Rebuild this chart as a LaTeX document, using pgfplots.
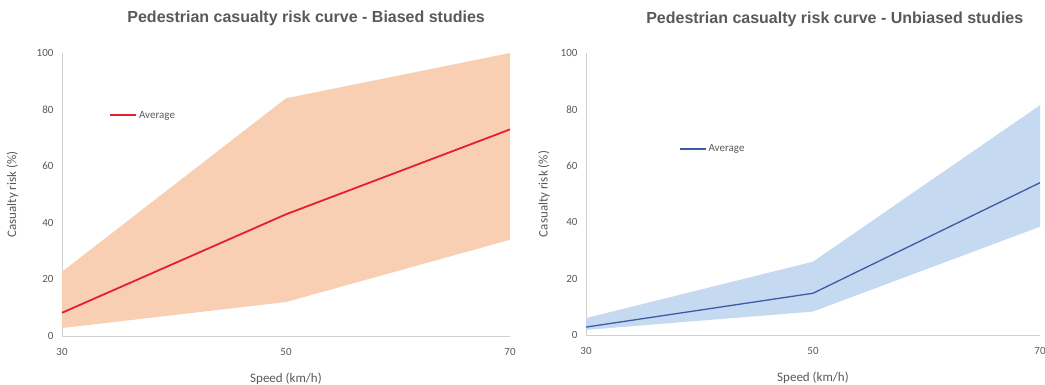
\documentclass[border=0pt]{standalone}
\usepackage{pgfplots}
\pgfplotsset{compat=1.18}
\usepackage{fontspec}
\setmainfont{Carlito}
\newfontfamily\titlefont{Liberation Sans}
\definecolor{txt}{HTML}{595959}
\definecolor{axl}{HTML}{D0D0D0}
\definecolor{orfill}{HTML}{F8CFB2}
\definecolor{redl}{HTML}{E4202C}
\definecolor{blfill}{HTML}{C5DAF0}
\definecolor{bll}{HTML}{3D5AA8}
\pgfplotsset{
  mystyle/.style={
    scale only axis,
    anchor=south west,
    xmin=30, xmax=70, ymin=0, ymax=100,
    xtick={30,50,70}, ytick={0,20,...,100},
    axis lines*=left,
    axis line style={draw=axl, line width=0.8pt},
    major tick length=0pt,
    tick label style={font=\fontsize{11}{12}\selectfont, text=txt},
    /pgf/number format/assume math mode=true,
    yticklabel style={xshift=-5pt},
    xticklabel style={yshift=-9pt},
    label style={font=\fontsize{13}{15}\selectfont, text=txt},
    xlabel={Speed (km/h)},
    ylabel={Casualty risk (\%)},
    xlabel style={at={(axis description cs:0.5,-0.118)}, anchor=north},
    title style={font=\titlefont\bfseries\fontsize{16}{18}\selectfont, text=txt, anchor=base},
    legend style={draw=none, fill=none, font=\fontsize{11}{12}\selectfont, text=txt,
      legend cell align=left, inner sep=0pt},
    legend image code/.code={\draw[#1] (0pt,0pt) -- (26pt,0pt);},
  }
}
\begin{document}
\begin{tikzpicture}
\useasboundingbox (0pt,0pt) rectangle (1045pt,385pt);
\begin{axis}[mystyle,
  at={(62pt,49pt)}, width=448pt, height=283pt,
  title={Pedestrian casualty risk curve - Biased studies},
  title style={at={(axis description cs:0.545,1.088)}},
  ylabel style={at={(axis description cs:-0.09,0.5)}, anchor=south},
  legend style={at={(axis description cs:0.105,0.78)}, anchor=west},
]
\addplot[fill=orfill, draw=none, forget plot] coordinates {(30,22.7) (50,84) (70,100) (70,34) (50,12) (30,2.8)} -- cycle;
\addplot[redl, line width=1.8pt] coordinates {(30,8.2) (50,43) (70,73)};
\addlegendentry{Average}
\end{axis}
\begin{axis}[mystyle,
  at={(586pt,50pt)}, width=454pt, height=282pt,
  title={Pedestrian casualty risk curve - Unbiased studies},
  title style={at={(axis description cs:0.548,1.085)}},
  ylabel style={at={(axis description cs:-0.072,0.5)}, anchor=south},
  legend style={at={(axis description cs:0.205,0.66)}, anchor=west},
]
\addplot[fill=blfill, draw=none, forget plot] coordinates {(30,6) (50,26) (70,81.5) (70,38.4) (50,8.3) (30,1.8)} -- cycle;
\addplot[bll, line width=1.3pt] coordinates {(30,2.8) (50,14.8) (70,54)};
\addlegendentry{Average}
\end{axis}
\end{tikzpicture}
\end{document}
